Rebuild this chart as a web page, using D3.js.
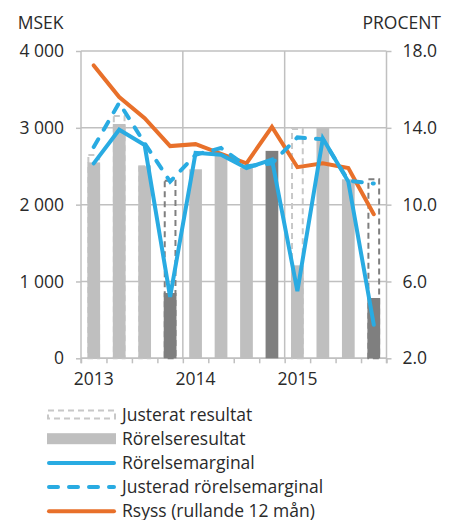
<!DOCTYPE html>
<meta charset="utf-8" />
<style>
  body { margin: 0; background: #fff; }
  text { font-family: "Open Sans", sans-serif; font-weight: 400; fill: #2a2a2a; }
</style>
<body>
<script src="https://d3js.org/d3.v7.min.js"></script>
<script>
// quarters 2013 Q1 .. 2015 Q4
var quarters = ["Q1-13","Q2-13","Q3-13","Q4-13","Q1-14","Q2-14","Q3-14","Q4-14","Q1-15","Q2-15","Q3-15","Q4-15"];
var years = ["2013", "2014", "2015"];
// MSEK
var rorelseresultat = [2550, 3050, 2500, 850, 2460, 2650, 2480, 2700, 1210, 3000, 2330, 785];
var justeratResultat = [2645, 3155, 2500, 2310, null, null, null, null, 2985, null, null, 2330];
// quarters with a dark bar (items affecting comparability)
var darkBars = [false, false, false, true, false, false, false, true, false, false, false, true];
// PROCENT
var rorelsemarginal = [12.15, 13.9, 13.1, 5.2, 12.7, 12.6, 11.9, 12.35, 5.5, 13.45, 11.2, 3.75];
var justeradMarginal = [13.0, 15.3, 13.2, 11.2, 12.6, 12.95, 12.0, 12.15, 13.5, 13.4, 11.25, 11.1];
var rsyss = [17.25, 15.6, 14.5, 13.05, 13.15, 12.65, 12.15, 14.05, 11.95, 12.15, 11.9, 9.5];

var leftTicks = [0, 1000, 2000, 3000, 4000];
var rightTicks = [2, 6, 10, 14, 18];

var margin = { top: 51, left: 81 },
  width = 305.5,
  height = 307.3;

var blue = "#29abe2", orange = "#e8702a", light = "#bfbfbf", dark = "#7f7f7f", grid = "#c0c0c0";

var svg = d3.select("body").append("svg")
  .attr("width", 457).attr("height", 520);

var g = svg.append("g")
  .attr("transform", "translate(" + margin.left + "," + margin.top + ")");

var x = d3.scaleBand().domain(quarters).range([0, width]).paddingInner(0.5).paddingOuter(0.25);
var xq = d3.scaleLinear().domain([0, quarters.length]).range([0, width]);
var y = d3.scaleLinear().domain([0, 4000]).range([height, 0]);
var y2 = d3.scaleLinear().domain([2, 18]).range([height, 0]);

// grid
g.selectAll(".hgrid").data(leftTicks).enter().append("line")
  .attr("x1", 0).attr("x2", width)
  .attr("y1", function (d) { return y(d); }).attr("y2", function (d) { return y(d); })
  .style("stroke", grid).style("stroke-width", 1.5);
g.selectAll(".vgrid").data([4, 8]).enter().append("line")
  .attr("x1", function (d) { return xq(d); }).attr("x2", function (d) { return xq(d); })
  .attr("y1", 0).attr("y2", height)
  .style("stroke", grid).style("stroke-width", 1.5);

// axes
var fmt = function (d) { return d3.format(",")(d).replace(",", " "); };
var left = g.append("g").call(d3.axisLeft(y).tickValues(leftTicks).tickSize(5).tickPadding(12).tickFormat(fmt));
var right = g.append("g").attr("transform", "translate(" + width + ",0)")
  .call(d3.axisRight(y2).tickValues(rightTicks).tickSize(5).tickPadding(11).tickFormat(d3.format(".1f")));
var bottom = g.append("g").attr("transform", "translate(0," + height + ")")
  .call(d3.axisBottom(xq).ticks(12).tickSize(5).tickFormat(""));
[left, right, bottom].forEach(function (a) {
  a.selectAll("path, line").style("stroke", grid).style("stroke-width", 1.5);
  a.selectAll("text").style("font-size", "17.5px").style("font-family", "'Open Sans', sans-serif").style("fill", "#2a2a2a");
});
left.select(".domain").remove();
right.select(".domain").remove();
bottom.select(".domain").remove();
g.append("line").attr("x1", 0).attr("x2", 0).attr("y1", 0).attr("y2", height + 5).style("stroke", grid).style("stroke-width", 1.5);
g.append("line").attr("x1", width).attr("x2", width).attr("y1", 0).attr("y2", height + 5).style("stroke", grid).style("stroke-width", 1.5);
g.append("line").attr("x1", 0).attr("x2", width).attr("y1", height).attr("y2", height).style("stroke", grid).style("stroke-width", 1.5);

g.selectAll(".year").data(years).enter().append("text")
  .attr("x", function (d, i) { return x(quarters[i * 4]) + x.bandwidth() / 2; })
  .attr("y", height + 27)
  .attr("text-anchor", "middle")
  .style("font-size", "17.5px")
  .text(function (d) { return d; });

svg.append("text").attr("x", 63.5).attr("y", 29).attr("text-anchor", "end").style("font-size", "17.5px").text("MSEK");
svg.append("text").attr("x", 441).attr("y", 29).attr("text-anchor", "end").style("font-size", "17.5px").text("PROCENT");

// justerat resultat outlines
g.selectAll(".just").data(quarters.filter(function (q, i) { return justeratResultat[i] != null; }))
  .enter().append("rect")
  .attr("x", function (q) { return x(q) + 1; })
  .attr("width", x.bandwidth() - 2)
  .attr("y", function (q) { return y(justeratResultat[quarters.indexOf(q)]); })
  .attr("height", function (q) { return height - y(justeratResultat[quarters.indexOf(q)]); })
  .style("fill", "none")
  .style("stroke", function (q) { return darkBars[quarters.indexOf(q)] ? dark : "#c8c8c8"; })
  .style("stroke-width", 2)
  .style("stroke-dasharray", "6,4");

// bars
g.selectAll(".bar").data(quarters).enter().append("rect")
  .attr("x", function (q) { return x(q); })
  .attr("width", x.bandwidth())
  .attr("y", function (q, i) { return y(rorelseresultat[i]); })
  .attr("height", function (q, i) { return height - y(rorelseresultat[i]); })
  .style("fill", function (q, i) { return darkBars[i] ? dark : light; });

// lines
var cx = function (q) { return x(q) + x.bandwidth() / 2; };
function pctLine(values) {
  return d3.line().x(function (q) { return cx(q); }).y(function (q, i) { return y2(values[i]); })(quarters);
}
g.append("path").attr("d", pctLine(rsyss))
  .style("fill", "none").style("stroke", orange).style("stroke-width", 4).style("stroke-linecap", "round");
g.append("path").attr("d", pctLine(justeradMarginal))
  .style("fill", "none").style("stroke", blue).style("stroke-width", 4)
  .style("stroke-dasharray", "9,11").style("stroke-linecap", "round");
g.append("path").attr("d", pctLine(rorelsemarginal))
  .style("fill", "none").style("stroke", blue).style("stroke-width", 4).style("stroke-linecap", "round");

// legend
var legendItems = ["Justerat resultat", "Rörelseresultat", "Rörelsemarginal", "Justerad rörelsemarginal", "Rsyss (rullande 12 mån)"];
var legend = svg.append("g").attr("transform", "translate(47,414.5)");
var rows = legend.selectAll(".row").data(legendItems).enter().append("g")
  .attr("transform", function (d, i) { return "translate(0," + i * 24.2 + ")"; });
rows.append("text").attr("x", 75).attr("dy", "0.35em").style("font-size", "17.5px").text(function (d) { return d; });
rows.each(function (d, i) {
  var r = d3.select(this);
  if (i === 0) {
    r.append("rect").attr("x", 1).attr("y", -4).attr("width", 67).attr("height", 8)
      .style("fill", "none").style("stroke", "#c8c8c8").style("stroke-width", 2).style("stroke-dasharray", "6,4");
  } else if (i === 1) {
    r.append("rect").attr("x", 0).attr("y", -5.5).attr("width", 69).attr("height", 11).style("fill", light);
  } else {
    r.append("line").attr("x1", 2).attr("x2", 67).attr("y1", 0).attr("y2", 0)
      .style("stroke", i === 4 ? orange : blue).style("stroke-width", 4).style("stroke-linecap", "round")
      .style("stroke-dasharray", i === 3 ? "9,11" : null);
  }
});
</script>
</body>
